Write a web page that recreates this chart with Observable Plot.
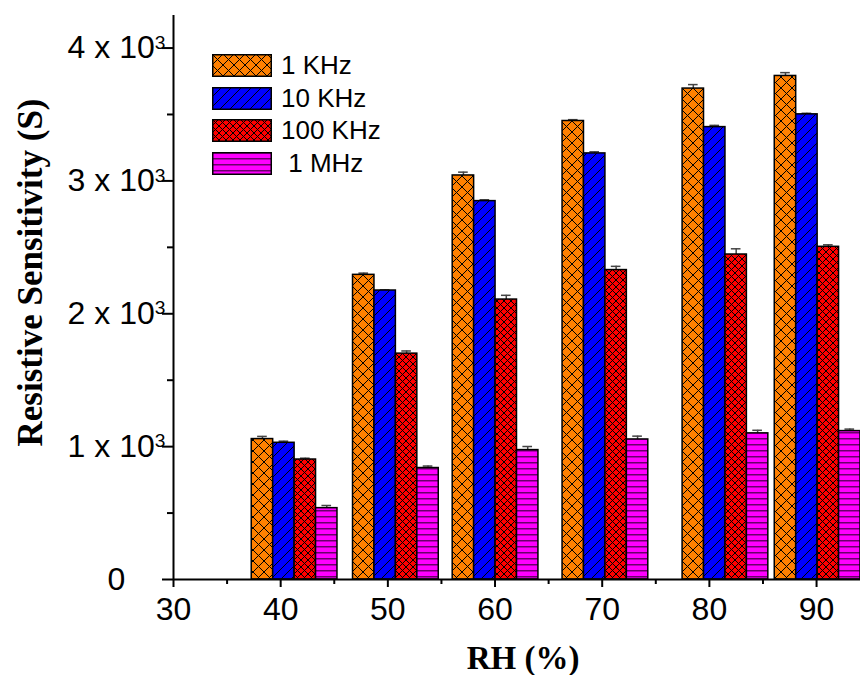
<!DOCTYPE html>
<html>
<head>
<meta charset="utf-8">
<script src="https://cdn.jsdelivr.net/npm/d3@7"></script>
<script src="https://cdn.jsdelivr.net/npm/@observablehq/plot@0.6"></script>
<style>
  body { margin: 0; background: #fff; }
  #wrap { position: relative; width: 860px; height: 675px; }
  #legend { position: absolute; left: 212px; top: 49px; font-family: "Liberation Sans", Arial, sans-serif; font-size: 26px; color: #000; }
  .row { display: flex; align-items: center; height: 32.8px; white-space: pre; }
  .row svg { margin-right: 9px; display: block; }
</style>
</head>
<body>
<svg width="0" height="0" style="position:absolute">
  <defs>
    <pattern id="pat1k" patternUnits="userSpaceOnUse" width="11" height="11">
      <rect width="11" height="11" fill="#FF8000"/>
      <path d="M0,0L11,11M11,0L0,11" stroke="#000" stroke-width="1"/>
    </pattern>
    <pattern id="pat10k" patternUnits="userSpaceOnUse" width="10" height="10">
      <rect width="10" height="10" fill="#0000FF"/>
      <path d="M-1,11L11,-1M-1,1L1,-1M9,11L11,9" stroke="#000" stroke-width="1"/>
    </pattern>
    <pattern id="pat100k" patternUnits="userSpaceOnUse" width="7" height="7">
      <rect width="7" height="7" fill="#FF0000"/>
      <path d="M0,0L7,7M7,0L0,7" stroke="#000" stroke-width="1"/>
    </pattern>
    <pattern id="pat1M" patternUnits="userSpaceOnUse" width="6" height="6">
      <rect width="6" height="6" fill="#FF00FF"/>
      <path d="M0,0.75H6" stroke="#6a006a" stroke-width="1.5"/>
    </pattern>
  </defs>
</svg>
<div id="wrap"><div id="legend"></div></div>
<script>
// ---- data ----
const rhLabels = [40, 50, 60, 70, 80, 90];
const rhPos = [41.3, 50.75, 60.05, 70.3, 81.5, 90.1];   // measured centre of each bar group (RH %)
const freqs = ["1 KHz", "10 KHz", "100 KHz", " 1 MHz"];
const sens1k   = [1057, 2293, 3041, 3451, 3695, 3790];
const sens10k  = [1029, 2175, 2848, 3207, 3405, 3501];
const sens100k = [903, 1700, 2107, 2329, 2446, 2504];
const sens1M   = [537, 839, 974, 1054, 1100, 1117];
const err1k    = [20, 13, 25, 10, 30, 25];
const err10k   = [12, 5, 10, 12, 13, 8];
const err100k  = [10, 20, 32, 28, 43, 15];
const err1M    = [20, 15, 27, 25, 23, 15];
const yTicks = [0, 1000, 2000, 3000, 4000];
const yTickBase = ["0", "1 x 10", "2 x 10", "3 x 10", "4 x 10"];
const yTickExp  = ["", "3", "3", "3", "3"];
const yMinorTicks = [500, 1500, 2500, 3500];
const xTicks = [30, 40, 50, 60, 70, 80, 90];
const xMinorTicks = [35, 45, 55, 65, 75, 85];
const patternIds = ["pat1k", "pat10k", "pat100k", "pat1M"];

// ---- build table ----
const series = [sens1k, sens10k, sens100k, sens1M];
const errors = [err1k, err10k, err100k, err1M];
const bw = 2.0;
const rows = [];
rhPos.forEach((p, g) => {
  freqs.forEach((f, i) => {
    rows.push({freq: f, i, pos: p, rh: rhLabels[g], v: series[i][g], e: errors[i][g]});
  });
});
const cx = d => d.pos + (d.i - 1.5) * bw;

const font = "'Liberation Sans', Arial, sans-serif";
const serif = "'Liberation Serif', 'Times New Roman', serif";

const plot = Plot.plot({
  width: 860,
  height: 675,
  marginLeft: 173,
  marginRight: 0,
  marginTop: 15,
  marginBottom: 96,
  x: {domain: [30, 94.1], label: null},
  y: {domain: [0, 4245], label: null},
  color: {type: "ordinal", domain: freqs, range: patternIds.map(id => `url(#${id})`)},
  style: {fontFamily: font, fontSize: "32px", background: "white", overflow: "visible", color: "black"},
  marks: [
    Plot.ruleX(rows, {x: cx, y1: "v", y2: d => d.v + d.e, stroke: "#444", strokeWidth: 1.5}),
    Plot.ruleY(rows, {x1: d => cx(d) - 0.45, x2: d => cx(d) + 0.45, y: d => d.v + d.e, stroke: "#444", strokeWidth: 1.5}),
    Plot.rectY(rows, {x1: d => cx(d) - bw / 2, x2: d => cx(d) + bw / 2, y1: 0, y2: "v", fill: "freq", stroke: "black", strokeWidth: 1.5}),
    Plot.ruleX([30], {stroke: "black", strokeWidth: 2}),
    Plot.ruleY([0], {stroke: "black", strokeWidth: 2}),
    Plot.axisY({ticks: yTicks, tickSize: 11, tickPadding: 46, textAnchor: "middle",
      tickFormat: d => yTickBase[yTicks.indexOf(d)], strokeWidth: 2, fontSize: 32, label: null}),
    Plot.axisY({ticks: yMinorTicks, tickSize: 6, tickFormat: () => "", strokeWidth: 2, label: null}),
    Plot.axisX({ticks: xTicks, tickSize: 8, tickPadding: 10, strokeWidth: 2, fontSize: 32, label: null}),
    Plot.axisX({ticks: xMinorTicks, tickSize: 5, tickFormat: () => "", strokeWidth: 2, label: null}),
    Plot.text(["Resistive Sensitivity (S)"], {frameAnchor: "left", textAnchor: "middle", dx: -143, dy: -25, rotate: -90,
      fontFamily: serif, fontWeight: "bold", fontSize: 35, fill: "black"}),
    Plot.text(["RH (%)"], {frameAnchor: "bottom", dx: 6, dy: 89,
      fontFamily: serif, fontWeight: "bold", fontSize: 33, fill: "black"})
  ]
});

// superscript exponents on the y tick labels
d3.select(plot).selectAll('g[aria-label="y-axis tick label"] text').each(function() {
  const base = this.textContent;
  const k = yTickBase.indexOf(base);
  if (k >= 0 && yTickExp[k]) {
    d3.select(this).append("tspan").attr("dy", "-0.5em").attr("font-size", "0.6em").text(yTickExp[k]);
  }
});

const wrap = document.getElementById("wrap");
wrap.insertBefore(plot, wrap.firstChild);

// legend
const legend = document.getElementById("legend");
freqs.forEach((f, i) => {
  const row = document.createElement("div");
  row.className = "row";
  row.innerHTML = `<svg width="60" height="23"><rect x="0.75" y="0.75" width="58.5" height="21.5" fill="url(#${patternIds[i]})" stroke="black" stroke-width="1.5"/></svg><span>${f}</span>`;
  legend.appendChild(row);
});
</script>
</body>
</html>
